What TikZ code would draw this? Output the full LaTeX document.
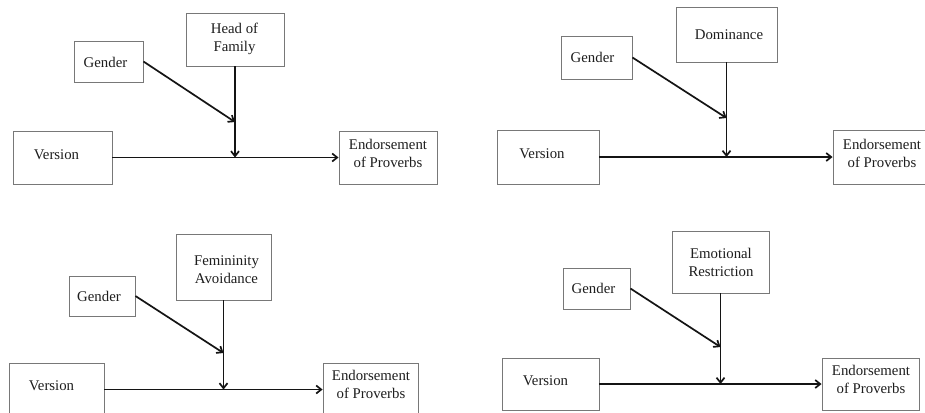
\documentclass[tikz,border=0pt]{standalone}
\usepackage{fontspec}
\setmainfont{Liberation Serif}
\usetikzlibrary{arrows.meta}
\definecolor{boxgray}{RGB}{120,120,120}
\definecolor{textgray}{RGB}{30,30,30}
\tikzset{
  box/.style={draw=boxgray, line width=0.9pt, inner sep=0pt, fill=white},
  lab/.style={font=\fontsize{14.8}{18}\selectfont, text=textgray, align=center, inner sep=0pt},
  link/.style={draw=black!92, line width=1.7pt, -{Straight Barb[length=5pt,width=8pt]}}
}
\begin{document}
\begin{tikzpicture}[x=1pt,y=-1pt]
\useasboundingbox (0,0) rectangle (925,412);
\clip (0,0) rectangle (925,412);
\fill[white] (0,0) rectangle (925,412);

% ---------- Panel 1 ----------
\node[box, minimum width=69pt, minimum height=41pt] (g1) at (108.5,61.5) {};
\node[lab] (g1t) at (105.5,62) {Gender};
\node[box, minimum width=98pt, minimum height=53pt] (h1) at (235,39.5) {};
\node[lab] (h1t) at (234.5,38.5) {Head of\\Family};
\node[box, minimum width=99pt, minimum height=53pt] (v1) at (62.5,157.5) {};
\node[lab] (v1t) at (56.5,155) {Version};
\node[box, minimum width=98pt, minimum height=53pt] (e1) at (388,157.5) {};
\node[lab] (e1t) at (388,153.5) {Endorsement\\of Proverbs};
\coordinate (m1) at (235,157.5);
\coordinate (gm1) at (235,122);
\draw[link] (v1.east) -- (e1.west);
\draw[link] (h1.south) -- (m1);
\draw[link] (g1.east) -- (gm1);

% ---------- Panel 2 ----------
\node[box, minimum width=71pt, minimum height=43pt] (g2) at (596.5,57.5) {};
\node[lab] (g2t) at (592.5,57) {Gender};
\node[box, minimum width=101pt, minimum height=55pt] (d2) at (726.5,34.5) {};
\node[lab] (d2t) at (729,35) {Dominance};
\node[box, minimum width=102pt, minimum height=54pt] (v2) at (548,157) {};
\node[lab] (v2t) at (542,154) {Version};
\node[box, minimum width=98pt, minimum height=54pt] (e2) at (882,157) {};
\node[lab] (e2t) at (882,153.5) {Endorsement\\of Proverbs};
\coordinate (m2) at (726.5,157);
\coordinate (gm2) at (726.5,118);
\draw[link] (v2.east) -- (e2.west);
\draw[link] (d2.south) -- (m2);
\draw[link] (g2.east) -- (gm2);

% ---------- Panel 3 ----------
\node[box, minimum width=66pt, minimum height=40pt] (g3) at (102,296) {};
\node[lab] (g3t) at (99,296) {Gender};
\node[box, minimum width=95pt, minimum height=66pt] (f3) at (223.5,267) {};
\node[lab] (f3t) at (226.5,270) {Femininity\\Avoidance};
\node[box, minimum width=95pt, minimum height=53pt] (v3) at (56.5,389.5) {};
\node[lab] (v3t) at (51.5,386) {Version};
\node[box, minimum width=95pt, minimum height=53pt] (e3) at (370.5,389.5) {};
\node[lab] (e3t) at (371,384.5) {Endorsement\\of Proverbs};
\coordinate (m3) at (223.5,389.5);
\coordinate (gm3) at (223.5,353);
\draw[link] (v3.east) -- (e3.west);
\draw[link] (f3.south) -- (m3);
\draw[link] (g3.east) -- (gm3);

% ---------- Panel 4 ----------
\node[box, minimum width=67pt, minimum height=41pt] (g4) at (596.5,288.5) {};
\node[lab] (g4t) at (593.5,288.5) {Gender};
\node[box, minimum width=97pt, minimum height=62pt] (r4) at (720.5,262) {};
\node[lab] (r4t) at (721,262.5) {Emotional\\Restriction};
\node[box, minimum width=97pt, minimum height=52pt] (v4) at (550.5,384) {};
\node[lab] (v4t) at (545.5,381) {Version};
\node[box, minimum width=97pt, minimum height=52pt] (e4) at (870.5,384) {};
\node[lab] (e4t) at (871,379) {Endorsement\\of Proverbs};
\coordinate (m4) at (720.5,384);
\coordinate (gm4) at (720.5,347);
\draw[link] (v4.east) -- (e4.west);
\draw[link] (r4.south) -- (m4);
\draw[link] (g4.east) -- (gm4);
\end{tikzpicture}
\end{document}
